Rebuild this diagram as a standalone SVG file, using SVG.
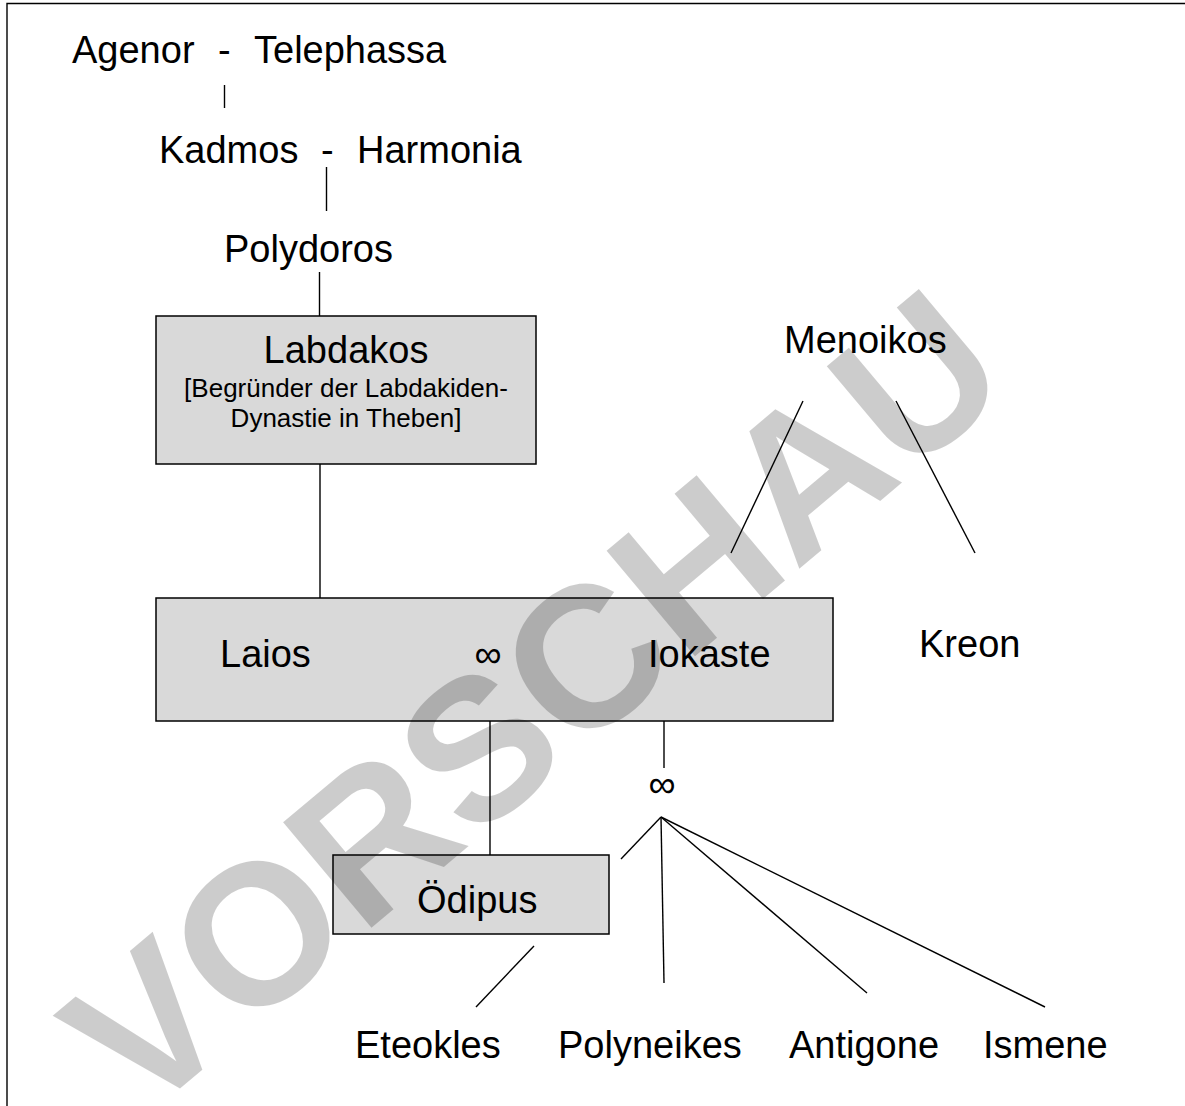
<svg xmlns="http://www.w3.org/2000/svg" width="1185" height="1106" viewBox="0 0 1185 1106">
<style>
.t{font-family:"Liberation Sans",Arial,sans-serif;font-size:38px;fill:#000}
.s{font-family:"Liberation Sans",Arial,sans-serif;font-size:26px;fill:#000}
.box{fill:#d9d9d9;stroke:#000;stroke-width:1.5}
.ln{stroke:#000;stroke-width:1.4;fill:none}
.wm{font-family:"Liberation Sans",Arial,sans-serif;font-weight:bold;font-size:200px;fill:#000;fill-opacity:0.2}
</style>
<rect width="1185" height="1106" fill="#fff"/>
<g id="frame"><path class="ln" d="M7 1106 V3.5 H1185" stroke-width="2"/></g>
<g id="connectors">
<line class="ln" x1="224.5" y1="85" x2="224.5" y2="108"/>
<line class="ln" x1="326.5" y1="167" x2="326.5" y2="211"/>
<line class="ln" x1="319.5" y1="272" x2="319.5" y2="316"/>
<line class="ln" x1="320" y1="464" x2="320" y2="598"/>
<line class="ln" x1="490" y1="721" x2="490" y2="855"/>
<line class="ln" x1="664" y1="702" x2="664" y2="768"/>
<line class="ln" x1="661" y1="817" x2="621" y2="859"/>
<line class="ln" x1="661" y1="817" x2="664" y2="983"/>
<line class="ln" x1="661" y1="817" x2="867" y2="993"/>
<line class="ln" x1="661" y1="817" x2="1045" y2="1007"/>
<line class="ln" x1="534" y1="946" x2="476" y2="1007"/>
<line class="ln" x1="803" y1="401" x2="731" y2="553"/>
<line class="ln" x1="896" y1="401" x2="975" y2="553"/>
</g>
<g id="agenor"><text class="t" x="72" y="63">Agenor</text><text class="t" x="218" y="63">-</text><text class="t" x="254" y="63">Telephassa</text></g>
<g id="kadmos"><text class="t" x="159" y="163">Kadmos</text><text class="t" x="321" y="163">-</text><text class="t" x="357" y="163">Harmonia</text></g>
<g id="polydoros"><text class="t" x="224" y="262">Polydoros</text></g>
<g id="labdakos"><rect class="box" x="156" y="316" width="380" height="148"/>
<text class="t" x="346" y="363" text-anchor="middle">Labdakos</text>
<text class="s" x="346" y="397" text-anchor="middle">[Begründer der Labdakiden-</text>
<text class="s" x="346" y="427" text-anchor="middle">Dynastie in Theben]</text></g>
<g id="laios-iokaste"><rect class="box" x="156" y="598" width="677" height="123"/>
<text class="t" x="220" y="667">Laios</text>
<text class="t" x="488" y="667" text-anchor="middle">∞</text>
<text class="t" x="648" y="667">Iokaste</text></g>
<g id="marriage2"><text class="t" x="662" y="797" text-anchor="middle">∞</text></g>
<g id="oedipus"><rect class="box" x="333" y="855" width="276" height="79"/>
<text class="t" x="417" y="913">Ödipus</text></g>
<g id="menoikos"><text class="t" x="784" y="353">Menoikos</text></g>
<g id="kreon"><text class="t" x="919" y="657">Kreon</text></g>
<g id="eteokles"><text class="t" x="355" y="1058">Eteokles</text></g>
<g id="polyneikes"><text class="t" x="558" y="1058">Polyneikes</text></g>
<g id="antigone"><text class="t" x="789" y="1058">Antigone</text></g>
<g id="ismene"><text class="t" x="983" y="1058">Ismene</text></g>
<text class="wm" transform="translate(140 1122) rotate(-40)">VORSCHAU</text>
</svg>
